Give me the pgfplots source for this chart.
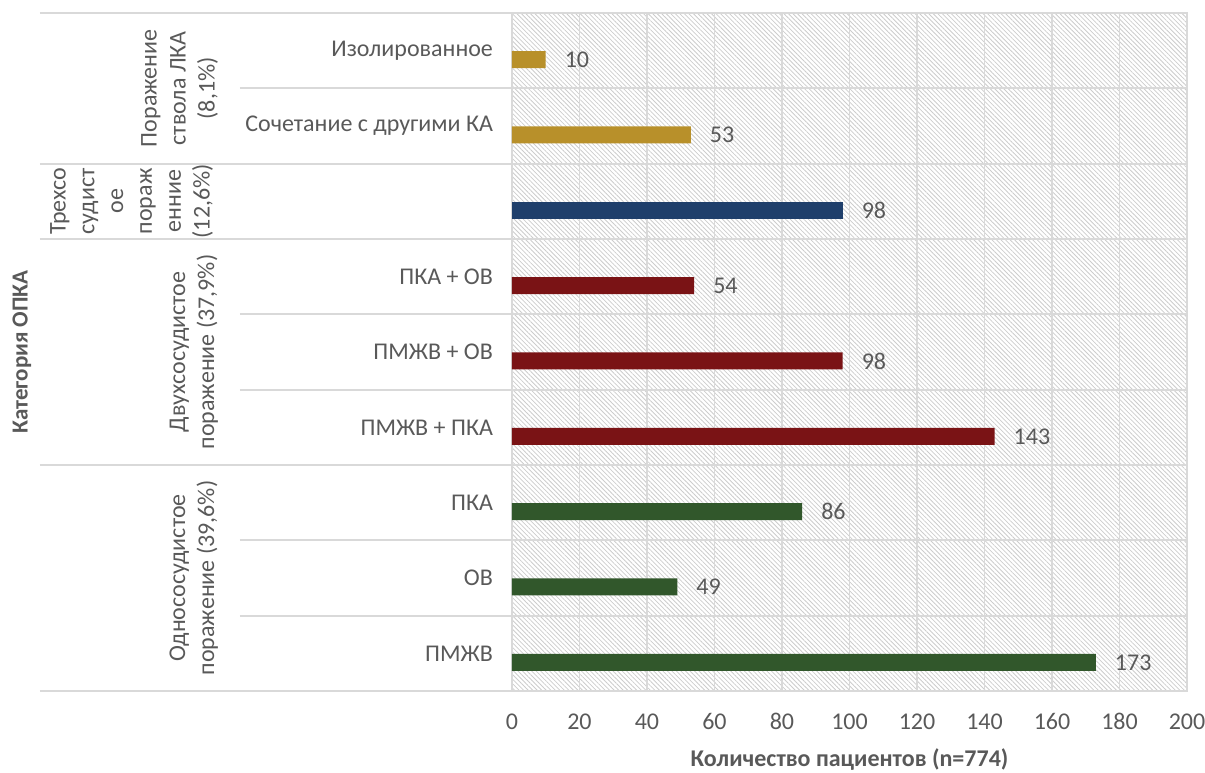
\documentclass[border=0pt]{standalone}
\usepackage{pgfplots}
\pgfplotsset{compat=1.18}
\usepackage{fontspec}
\setmainfont{Carlito}
\usetikzlibrary{patterns.meta}
\definecolor{txt}{HTML}{595959}
\definecolor{gridc}{HTML}{D9D9D9}
\definecolor{cgold}{HTML}{B8902A}
\definecolor{cblue}{HTML}{1F3F6B}
\definecolor{cred}{HTML}{7A1315}
\definecolor{cgreen}{HTML}{31572B}

\begin{document}
\begin{tikzpicture}[font=\fontsize{12}{14.5}\selectfont]
\begin{axis}[
  name=ax,
  scale only axis, width=337.5pt, height=339pt,
  xbar, bar width=8.5pt,
  xmin=0, xmax=200, xtick={0,20,40,60,80,100,120,140,160,180,200},
  ymin=-0.5, ymax=8.5, ytick={0,...,8},
  yticklabels={ПМЖВ, ОВ, ПКА, ПМЖВ + ПКА, ПМЖВ + ОВ, ПКА + ОВ, {}, Сочетание с другими КА, Изолированное},
  minor ytick={0.5,1.5,...,7.5},
  xmajorgrids, yminorgrids,
  major tick length=0pt, minor tick length=0pt,
  major grid style={gridc, line width=0.9pt},
  minor grid style={gridc, line width=0.9pt},
  axis line style={gridc, line width=0.9pt},
  axis background/.style={pattern={Lines[angle=-45,distance=1.6pt,line width=0.4pt]}, pattern color=black!20},
  tick label style={text=txt},
  /pgf/number format/assume math mode=true,
  xticklabel style={anchor=north, text height=1.6ex, text depth=0.2ex, yshift=-8pt},
  yticklabel style={xshift=-6pt},
  xlabel={\bfseries Количество пациентов (n=774)},
  xlabel style={text=txt, yshift=-2pt},
  nodes near coords,
  nodes near coords style={text=txt, anchor=west, xshift=6pt},
  clip=false,
]
% Однососудистое поражение
\addplot[fill=cgreen, draw=none, bar shift=-4.5pt] coordinates {(173,0) (49,1) (86,2)};
% Двухсосудистое поражение
\addplot[fill=cred, draw=none, bar shift=-4.5pt] coordinates {(143,3) (98,4) (54,5)};
% Трехсосудистое поражение
\addplot[fill=cblue, draw=none, bar shift=-4.5pt] coordinates {(98,6)};
% Поражение ствола ЛКА
\addplot[fill=cgold, draw=none, bar shift=-4.5pt] coordinates {(53,7) (10,8)};

% separators of the category axis
\pgfplotsinvokeforeach{-0.5,2.5,5.5,6.5,8.5}{
  \draw[gridc, line width=0.9pt] (axis cs:-139.85,#1) -- (axis cs:0,#1);
}
\pgfplotsinvokeforeach{0.5,1.5,3.5,4.5,7.5}{
  \draw[gridc, line width=0.9pt] (axis cs:-80.6,#1) -- (axis cs:0,#1);
}

% group labels
\node[rotate=90, anchor=south, align=center, text=txt, inner sep=0pt] at (axis cs:-87,7.5)
  {Поражение\\ствола ЛКА\\(8,1\%)};
\node[rotate=90, anchor=south, align=center, text=txt, inner sep=0pt, font=\fontsize{12}{14.4}\selectfont] at (axis cs:-88.5,6)
  {Трехсо\\судист\\ое\\пораж\\енние\\(12,6\%)};
\node[rotate=90, anchor=south, align=center, text=txt, inner sep=0pt] at (axis cs:-87,4)
  {Двухсосудистое\\поражение (37,9\%)};
\node[rotate=90, anchor=south, align=center, text=txt, inner sep=0pt] at (axis cs:-87,1)
  {Однососудистое\\поражение (39,6\%)};
\node[rotate=90, text=txt, inner sep=0pt, font=\fontsize{11.5}{14}\selectfont\bfseries] at (axis cs:-145.2,4)
  {Категория ОПКА};
\end{axis}
\pgfresetboundingbox
\path ([shift={(-256pt,-41pt)}]ax.south west) rectangle ([shift={(9pt,6.5pt)}]ax.north east);
\end{tikzpicture}
\end{document}
